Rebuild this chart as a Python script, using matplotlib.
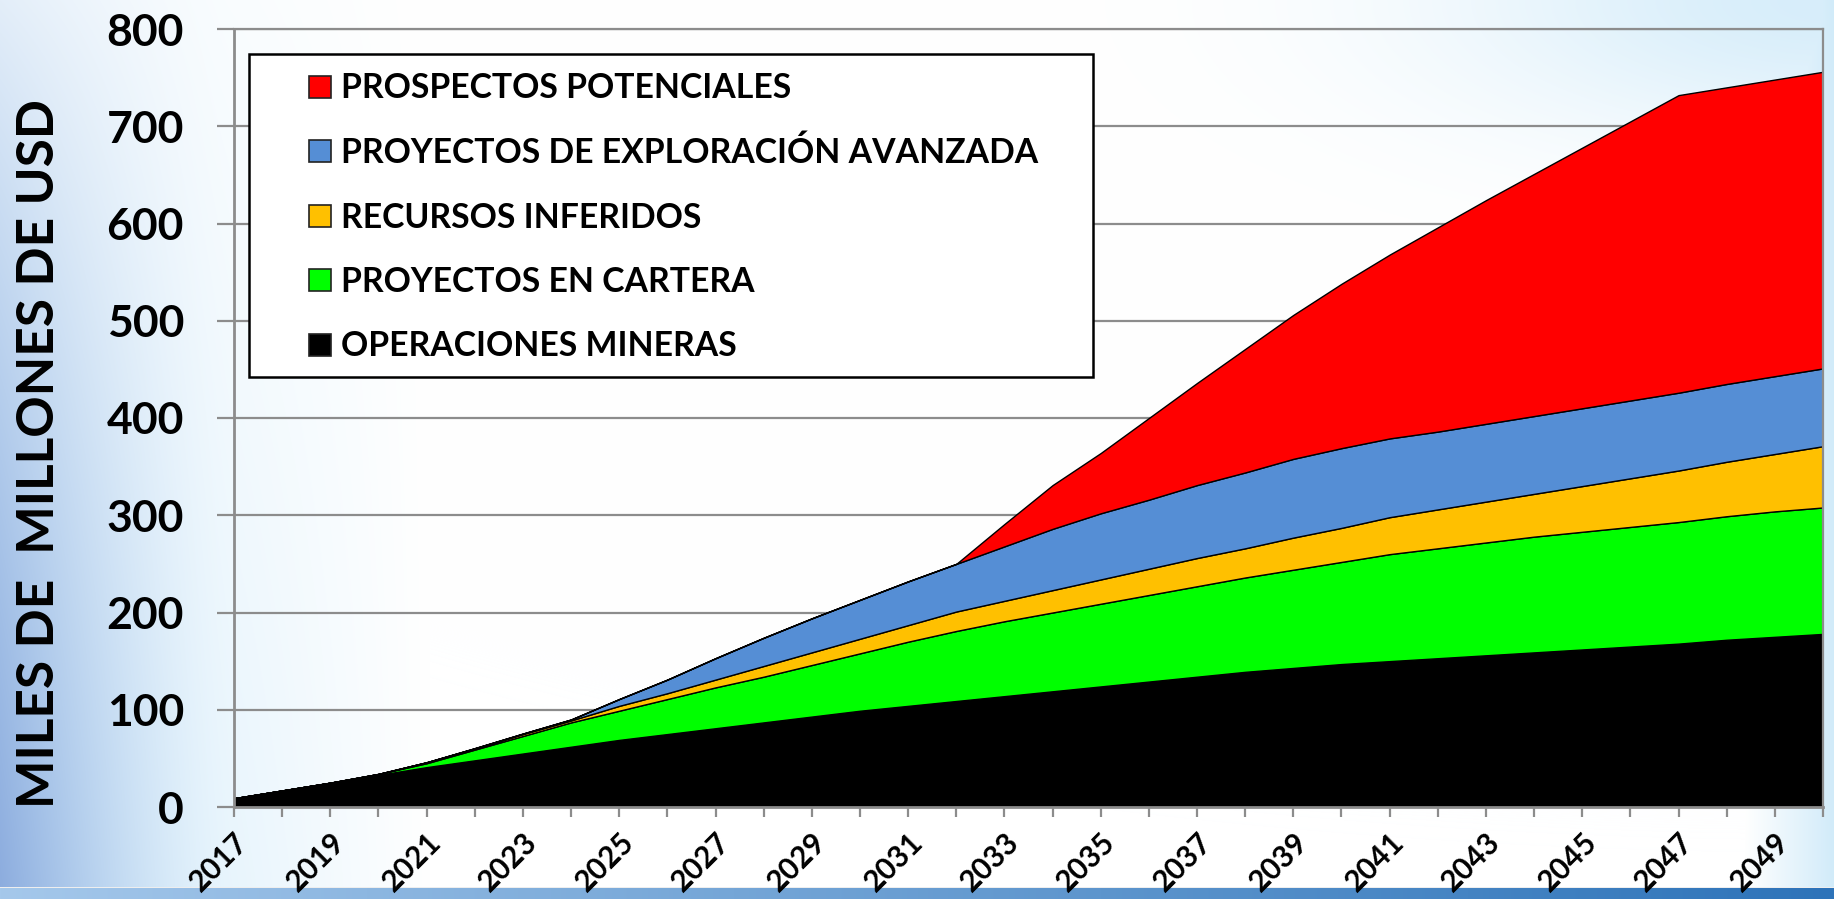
import numpy as np
import matplotlib
matplotlib.use("Agg")
import matplotlib.pyplot as plt
from matplotlib.patches import Rectangle

plt.rcParams['font.family'] = ['Lato', 'DejaVu Sans']
plt.rcParams['font.weight'] = 'bold'

# ---------------- data ----------------
years = list(range(2017, 2051))
operaciones = [9, 17, 25, 33, 41, 48, 55, 62, 69, 75, 81, 87, 93, 99, 104, 109, 114,
               119, 124, 129, 134, 139, 143, 147, 150, 153, 156, 159, 162, 165, 168,
               172, 175, 178]
cartera = [0, 0, 0, 1, 4, 11, 18, 25, 30, 36, 42, 47, 53, 59, 66, 72, 77,
           81, 85, 89, 93, 97, 101, 105, 110, 113, 116, 119, 121, 123, 125,
           127, 129, 130]
inferidos = [0, 0, 0, 0, 1, 1, 2, 2, 5, 6, 8, 11, 13, 15, 17, 20, 21,
             23, 25, 27, 29, 30, 33, 35, 38, 40, 42, 44, 47, 50, 53,
             56, 59, 63]
exploracion = [0, 0, 0, 0, 0, 0.5, 0.5, 1, 7, 14, 22, 29, 35, 40, 45, 49, 56,
               63, 68, 71, 75, 78, 81, 82, 81, 80, 80, 80, 80, 80, 80,
               80, 80, 80]
prospectos = [0, 0, 0, 0, 0, 0, 0, 0, 0, 0, 0, 0, 0, 0, 0, 0, 23,
              45, 62, 84, 105, 127, 148, 169, 189, 210, 230, 249, 268, 287, 306,
              305, 305, 305]

series_names = ["OPERACIONES MINERAS", "PROYECTOS EN CARTERA", "RECURSOS INFERIDOS",
                "PROYECTOS DE EXPLORACIÓN AVANZADA", "PROSPECTOS POTENCIALES"]
series_colors = ["#000000", "#00FF00", "#FFC000", "#558ED5", "#FF0000"]
yticks = list(range(0, 801, 100))
xlabels = [str(y) if (y - 2017) % 2 == 0 and y < 2050 else "" for y in years]

W, H = 1834, 899
fig = plt.figure(figsize=(W / 100, H / 100), dpi=100)

# ---------------- background gradient ----------------
xx = np.arange(W)[None, :].astype(float)
yy = np.arange(H)[:, None].astype(float)
img = np.ones((H, W, 3)) * 255.0
c2 = np.array([205, 233, 250.0])
w2 = np.clip(1 - xx / 430, 0, 1) * (0.25 + 0.75 * yy / H)
img = img * (1 - w2[..., None]) + c2 * w2[..., None]
c1 = np.array([140, 172, 222.0])
w1 = np.clip(1 - xx / 230, 0, 1) ** 1.6 * (0.15 + 0.85 * yy / H)
img = img * (1 - w1[..., None]) + c1 * w1[..., None]
c3 = np.array([198, 230, 248.0])
w3 = np.clip(1 - (W - xx) / 90, 0, 1) * 0.8
w3 = np.maximum(w3, 0.7 * np.exp(-(((W - xx) / 380) ** 2 + (yy / 140) ** 2)))
img = img * (1 - w3[..., None]) + c3 * w3[..., None]
bar = yy[:, 0] >= 888
t = xx[0] / W
barcol = np.stack([165 - 120 * t, 200 - 85 * t, 235 - 50 * t], axis=1)
img[bar, :, :] = barcol[None, :, :]
img[887, :, :] = 238
bg = fig.add_axes([0, 0, 1, 1], zorder=-10)
bg.imshow(np.clip(img, 0, 255).astype(np.uint8), aspect='auto', extent=[0, 1, 0, 1])
bg.axis('off')

# ---------------- main axes ----------------
ax = fig.add_axes([234 / W, (H - 807) / H, (1823 - 234) / W, (807 - 29) / H])
ax.patch.set_alpha(0)
ax.stackplot(years, operaciones, cartera, inferidos, exploracion, prospectos,
             colors=series_colors, edgecolor='black', linewidth=1.0)
ax.set_xlim(2017, 2050)
ax.set_ylim(0, 800)
ax.set_axisbelow(True)
ax.yaxis.grid(True, color='#8c8c8c', linewidth=1.6)
ax.set_yticks(yticks)
ax.set_yticklabels([str(v) for v in yticks], fontsize=32, fontweight='bold')
ax.set_xticks(years)
ax.set_xticklabels(xlabels, fontsize=21.5, fontweight='bold', rotation=45,
                   ha='right', va='top', rotation_mode='anchor')
ax.tick_params(axis='y', length=12, width=1.6, color='#8c8c8c', pad=24)
ax.tick_params(axis='x', length=7, width=1.6, color='#8c8c8c', pad=8)
for s in ['left', 'bottom', 'right', 'top']:
    ax.spines[s].set_color('#8c8c8c')
    ax.spines[s].set_linewidth(2)
ax.spines['top'].set_linewidth(1.6)
ax.spines['right'].set_linewidth(1.6)

# ---------------- y label ----------------
fig.text(40 / W, 1 - 453 / H, "MILES DE  MILLONES DE USD", rotation=90,
         ha='center', va='center', fontsize=37, fontweight='bold')

# ---------------- legend (drawn as a boxed key) ----------------
def fx(x):
    return x / W


def fy(y):
    return 1 - y / H


fig.patches.append(Rectangle((fx(249), fy(377)), fx(1093) - fx(249), fy(54) - fy(377),
                             transform=fig.transFigure, facecolor='white',
                             edgecolor='black', linewidth=1.8, zorder=5))
rows = [86.5, 151, 215.5, 280, 344.5]
order = [4, 3, 2, 1, 0]
for cy, idx in zip(rows, order):
    fig.patches.append(Rectangle((fx(309), fy(cy + 11)), fx(22), 22 / H,
                                 transform=fig.transFigure,
                                 facecolor=series_colors[idx], edgecolor='#222222',
                                 linewidth=1.2, zorder=6))
    fig.text(fx(341), fy(cy + 12), series_names[idx], ha='left', va='baseline',
             fontsize=24.3, fontweight='bold', zorder=7)

fig.savefig("out.png", dpi=100)
